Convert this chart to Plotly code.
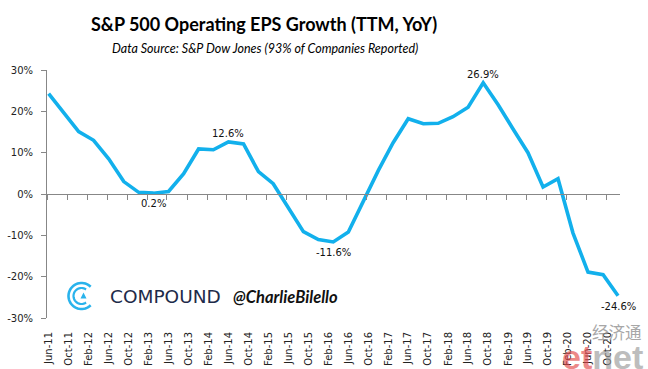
import numpy as np
import pandas as pd
import plotly.graph_objects as go

# ---- data (quarterly, TTM YoY growth %) ----
dates = pd.date_range("2011-06-01", "2020-12-01", freq="3MS").strftime("%Y-%m-%d").tolist()
eps_growth = [24.3, 19.8, 15.1, 13.0, 8.5, 3.0, 0.4, 0.2, 0.6, 4.9,
              10.9, 10.7, 12.6, 12.1, 5.4, 2.5, -3.2, -9.1, -11.0, -11.6,
              -9.2, -1.6, 5.7, 12.4, 18.2, 17.0, 17.1, 18.7, 21.0, 26.9,
              21.6, 15.8, 10.0, 1.7, 3.7, -9.4, -18.9, -19.5, -24.6]
label_idx_above = [12, 29]
label_idx_below = [7, 19, 38]
tick_dates = pd.date_range("2011-06-01", "2020-10-01", freq="4MS")
tick_vals = tick_dates.strftime("%Y-%m-%d").tolist()
tick_text = tick_dates.strftime("%b-%y").tolist()
y_ticks = [-30, -20, -10, 0, 10, 20, 30]
y_tick_text = [f"{v}%" for v in y_ticks]

W, H = 648, 369
ML, MR, MT, MB = 47, 28, 70, 51
PW, PH = W - ML - MR, H - MT - MB
XR = ["2011-05-22", "2020-12-13"]

def px2paper(x, y):
    return (x - ML) / PW, (H - MB - y) / PH

LINE_C = "#12B0EC"
AX_C = "#878787"

fig = go.Figure()
fig.add_trace(go.Scatter(x=dates, y=eps_growth, mode="lines",
                         line=dict(color=LINE_C, width=3.6),
                         hoverinfo="skip", showlegend=False))
# helper (invisible) trace so the zero-line axis is drawn
fig.add_trace(go.Scatter(x=dates, y=eps_growth, mode="lines", xaxis="x2",
                         line=dict(color="rgba(0,0,0,0)", width=0),
                         hoverinfo="skip", showlegend=False))

annotations = []
for i in label_idx_above:
    annotations.append(dict(x=dates[i], y=eps_growth[i], xref="x", yref="y",
                            text=f"{eps_growth[i]:.1f}%", showarrow=False,
                            yanchor="bottom", yshift=1,
                            font=dict(family="DejaVu Sans", size=10, color="#111")))
for i in label_idx_below:
    annotations.append(dict(x=dates[i], y=eps_growth[i], xref="x", yref="y",
                            text=f"{eps_growth[i]:.1f}%", showarrow=False,
                            yanchor="top", yshift=-3,
                            font=dict(family="DejaVu Sans", size=10, color="#111")))

# titles
tx, ty = px2paper(264, 24)
annotations.append(dict(x=tx, y=ty, xref="paper", yref="paper", showarrow=False,
                        text="<b>S&P 500 Operating EPS Growth (TTM, YoY)</b>",
                        xanchor="center", yanchor="middle",
                        font=dict(family="Lato", size=18, color="#000")))
sx, sy = px2paper(265, 49)
annotations.append(dict(x=sx, y=sy, xref="paper", yref="paper", showarrow=False,
                        text="<i>Data Source: S&P Dow Jones (93% of Companies Reported)</i>",
                        xanchor="center", yanchor="middle",
                        font=dict(family="Lato", size=12.5, color="#000")))

# Compound watermark text
cx, cy = px2paper(165, 296)
annotations.append(dict(x=cx, y=cy, xref="paper", yref="paper", showarrow=False,
                        text="COMPOUND", xanchor="center", yanchor="middle",
                        font=dict(family="DejaVu Sans", size=18.5, color="#1E2B4A")))
bx, by = px2paper(285, 297)
annotations.append(dict(x=bx, y=by, xref="paper", yref="paper", showarrow=False,
                        text="<b><i>@CharlieBilello</i></b>", xanchor="center", yanchor="middle",
                        font=dict(family="Lato", size=16.5, color="#111")))

# etnet watermark
ex, ey = px2paper(617, 332)
annotations.append(dict(x=ex, y=ey, xref="paper", yref="paper", showarrow=False,
                        text="经济通", xanchor="center", yanchor="middle", opacity=0.75,
                        font=dict(family="Noto Sans CJK SC", size=16.5, color="#8a8a8a")))
nx, ny = px2paper(602, 357)
annotations.append(dict(x=nx, y=ny, xref="paper", yref="paper", showarrow=False,
                        text="<b><span style='color:#E24A4A'>et</span>net</b>",
                        xanchor="center", yanchor="middle", opacity=0.65,
                        font=dict(family="Liberation Sans", size=34, color="#9a9a9a")))

# Compound logo shapes
def arc_path(cxp, cyp, r, a0, a1, n=40):
    pts = []
    for a in np.linspace(np.radians(a0), np.radians(a1), n):
        px, py = px2paper(cxp + r * np.cos(a), cyp - r * np.sin(a))
        pts.append(f"{px:.5f},{py:.5f}")
    return "M" + " L".join(pts)

shapes = [
    dict(type="path", xref="paper", yref="paper",
         path=arc_path(81.5, 296, 13, 45, 315), line=dict(color="#29B3EC", width=2.6)),
    dict(type="path", xref="paper", yref="paper",
         path=arc_path(81.5, 296, 8, 55, 305), line=dict(color="#29B3EC", width=2.2)),
]
t1 = px2paper(80.5, 298.5); t2 = px2paper(86.5, 298.5); t3 = px2paper(83.5, 292.5)
shapes.append(dict(type="path", xref="paper", yref="paper",
                   path=f"M{t1[0]:.5f},{t1[1]:.5f} L{t2[0]:.5f},{t2[1]:.5f} L{t3[0]:.5f},{t3[1]:.5f} Z",
                   fillcolor="#29B3EC", line=dict(width=0)))

fig.update_layout(
    template="none",
    width=W, height=H,
    margin=dict(l=ML, r=MR, t=MT, b=MB, autoexpand=False),
    paper_bgcolor="white", plot_bgcolor="white",
    xaxis=dict(type="date", range=XR, tickvals=tick_vals, ticktext=tick_text,
               tickangle=-90, showgrid=False, zeroline=False, showline=False,
               ticks="", ticklabelstandoff=11, automargin=False,
               tickfont=dict(family="DejaVu Sans", size=10, color="#222")),
    xaxis2=dict(type="date", range=XR, overlaying="x", anchor="free", position=0.5,
                side="bottom", showgrid=False, zeroline=False, showline=True,
                linecolor=AX_C, linewidth=1, ticks="outside", ticklen=5,
                tickcolor=AX_C, tickwidth=1, tick0="2011-05-22", dtick="M4",
                showticklabels=False, automargin=False),
    yaxis=dict(range=[-30, 30], tickvals=y_ticks, ticktext=y_tick_text,
               showgrid=False, zeroline=False, showline=True, linecolor=AX_C,
               linewidth=1, ticks="outside", ticklen=5, tickcolor=AX_C,
               ticklabelstandoff=6, automargin=False,
               tickfont=dict(family="DejaVu Sans", size=10, color="#222")),
    annotations=annotations, shapes=shapes,
)

fig.write_html("out.html", config={"displayModeBar": False},
               post_script="document.body.style.margin='0';document.body.style.overflow='hidden';")
